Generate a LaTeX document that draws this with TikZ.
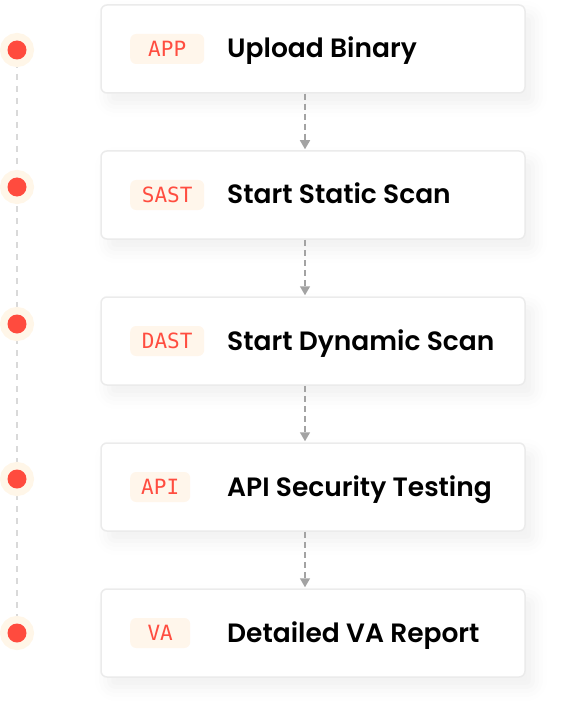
\documentclass[tikz,border=0pt]{standalone}
\usepackage{fontspec}
\setmainfont{Poppins}[BoldFont={Poppins SemiBold}]
\setmonofont{DejaVu Sans Mono}
\usetikzlibrary{arrows.meta,shadows.blur,backgrounds}
\definecolor{dotred}{HTML}{FF4B3E}
\definecolor{halo}{HTML}{FFF6E8}
\definecolor{tagbg}{HTML}{FFF6EB}
\definecolor{tagred}{HTML}{FF4D40}
\definecolor{edge}{HTML}{EBEBEB}
\definecolor{flow}{HTML}{A3A3A3}
\definecolor{rail}{HTML}{D9D9D9}
\tikzset{
    stepcard/.style={draw=edge, line width=1.5pt, fill=white, rounded corners=6pt,
        minimum width=424pt, minimum height=88pt,
        blur shadow={shadow xshift=8pt, shadow yshift=-10pt, shadow blur radius=14pt, shadow opacity=6}},
    steptag/.style={fill=tagbg, rounded corners=6pt, minimum height=30pt, inner sep=0pt,
        text=tagred, font=\ttfamily\fontsize{21}{24}\selectfont, anchor=west},
    steptitle/.style={font=\bfseries\fontsize{26.5}{31}\selectfont, anchor=base west, inner sep=0pt},
    stepdot/.style={circle, fill=dotred, minimum size=19pt, inner sep=0pt,
        preaction={draw=halo, line width=15pt}},
    flowarrow/.style={draw=flow, line width=1.5pt, dash pattern=on 6pt off 4pt,
        -{Triangle[width=10pt,length=9pt]}, shorten >=1pt}
}

\begin{document}
\begin{tikzpicture}[x=1pt, y=-1pt]
    \useasboundingbox (0,0) rectangle (562,714);
    %cards with tag and title
    \foreach \tg/\ttl/\tw [count=\i] in {APP/Upload Binary/74, SAST/Start Static Scan/74,
            DAST/Start Dynamic Scan/74, API/API Security Testing/60, VA/Detailed VA Report/60}{
        \node[stepcard] (card\i) at (313,{49+146*(\i-1)}) {};
        \node[steptag, minimum width=\tw pt] (tag\i) at (130,{49+146*(\i-1)}) {\tg};
        \node[steptitle] (title\i) at (227,{58+146*(\i-1)}) {\ttl};
    }
    %flow between cards
    \foreach \i [evaluate=\i as \j using int(\i+1)] in {1,...,4}
        \draw[flowarrow] ([xshift=-8pt]card\i.south) -- ([xshift=-8pt]card\j.north);

    %timeline on the left
    \foreach \y [count=\i] in {50,187,324,479,633}
        \node[stepdot] (dot\i) at (17,\y) {};
    \begin{scope}[on background layer]
        \draw[rail, line width=1.5pt, dash pattern=on 6pt off 6pt] (dot1.center) -- (dot5.center);
    \end{scope}
\end{tikzpicture}
\end{document}
